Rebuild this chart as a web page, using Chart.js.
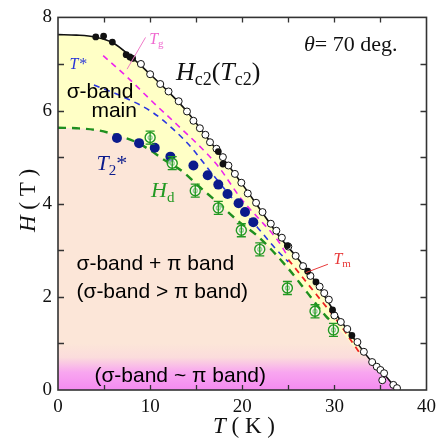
<!DOCTYPE html>
<html>
<head>
<meta charset="utf-8">
<script src="https://cdn.jsdelivr.net/npm/chart.js@4.4.1/dist/chart.umd.min.js"></script>
<style>
  html, body { margin: 0; padding: 0; background: #fff; }
  #wrap { width: 442px; height: 443px; }
</style>
</head>
<body>
<div id="wrap"><canvas id="phase"></canvas></div>
<script>
// Hc2(Tc2) solid curve
var hc2T = [0, 2, 4, 6, 8, 10, 12, 14, 16, 18, 20, 22, 24, 26, 28, 30, 32, 34, 35, 36, 36.8];
var hc2H = [7.63, 7.62, 7.58, 7.45, 7.14, 6.78, 6.4, 5.98, 5.47, 4.95, 4.42, 3.86, 3.3, 2.83, 2.31, 1.68, 1.14, 0.62, 0.43, 0.2, 0];

// open circles
var openT = [9.0, 10.0, 11.1, 12.0, 13.1, 14.0, 14.7, 15.4, 16.0, 16.5, 17.2, 17.9, 18.5, 19.2, 19.9, 20.6, 21.5, 22.2, 23.1, 23.7, 24.3, 25.0, 25.8, 26.6, 27.4, 28.4, 28.9, 29.4, 30.0, 30.7, 31.4, 32.5, 33.2, 34.1, 34.6, 35.0, 35.4, 35.2, 36.4, 36.8];
var openH = [7.0, 6.78, 6.57, 6.41, 6.2, 5.98, 5.78, 5.62, 5.48, 5.32, 5.18, 5.0, 4.82, 4.64, 4.45, 4.22, 4.02, 3.82, 3.57, 3.42, 3.27, 3.08, 2.88, 2.66, 2.45, 2.22, 2.08, 1.94, 1.6, 1.46, 1.31, 1.03, 0.82, 0.6, 0.5, 0.43, 0.36, 0.21, 0.11, 0.04];

// filled black circles
var filledT = [4.1, 4.95, 5.9, 7.4, 7.8, 8.1, 17.4, 17.9, 24.9, 27.1, 28.0, 29.8, 31.9];
var filledH = [7.58, 7.6, 7.47, 7.2, 7.15, 7.12, 5.12, 4.85, 3.1, 2.55, 2.32, 1.72, 1.17];

// T2* navy circles
var t2T = [6.4, 8.8, 10.5, 12.2, 14.7, 16.25, 17.4, 18.4, 19.6, 20.3, 21.2];
var t2H = [5.41, 5.3, 5.2, 5.01, 4.82, 4.61, 4.41, 4.21, 4.01, 3.82, 3.6];

// Hd points with error bars
var hdPtT = [10.0, 12.4, 14.9, 17.4, 19.9, 21.9, 24.9, 27.9, 29.9];
var hdPtH = [5.42, 4.87, 4.28, 3.91, 3.43, 3.02, 2.19, 1.69, 1.29];
var hdErr = 0.14;

// dashed guide lines
var hdLineT = [0, 2, 4.5, 7, 8.4, 10, 11.3, 13.6, 15.25, 17.2, 19.6, 21.7, 24.9, 27.1, 29.1, 29.5];
var hdLineH = [5.63, 5.62, 5.57, 5.43, 5.33, 5.15, 4.97, 4.68, 4.38, 4.05, 3.62, 3.3, 2.63, 2.08, 1.58, 1.5];
var tStarT = [3.9, 7.0, 10.2, 12.5, 14.5, 16.7, 19.2, 21.7, 23.5, 25.0];
var tStarH = [6.55, 6.3, 5.97, 5.6, 5.2, 4.65, 4.05, 3.48, 3.06, 2.75];
var tgT = [4.9, 7.5, 10.2, 12.9, 15.6, 17.4, 19.9, 21.7, 23.9, 25.0];
var tgH = [7.18, 6.72, 6.2, 5.7, 5.19, 4.8, 4.1, 3.7, 3.2, 2.85];
var tmT = [25.0, 28.0, 30.3, 32.8];
var tmH = [2.8, 2.06, 1.49, 0.78];

// lower edge of the yellow region
var edgeT = [0, 2, 4.5, 7, 8.4, 10, 11.3, 13.6, 15.25, 17.2, 19.6, 21.7, 24.9, 27.1, 29.1, 31, 33, 35, 36.3];
var edgeH = [5.63, 5.62, 5.57, 5.43, 5.33, 5.15, 4.97, 4.68, 4.38, 4.05, 3.62, 3.3, 2.63, 2.08, 1.58, 1.2, 0.68, 0.25, 0];

var xTicks = [0, 10, 20, 30, 40];
var yTicks = [0, 2, 4, 6, 8];

function pts(xs, ys) {
  return xs.map(function (x, i) { return { x: x, y: ys[i] }; });
}

var SERIF = '"Liberation Serif", "DejaVu Serif", serif';
var SANS = '"Liberation Sans", Arial, sans-serif';

function bandFill(top) {
  return function (ctx) {
    var chart = ctx.chart;
    var y = chart.scales && chart.scales.y;
    if (!chart.chartArea || !y) return top;
    var g = chart.ctx.createLinearGradient(0, y.getPixelForValue(1.0), 0, y.getPixelForValue(0));
    g.addColorStop(0, top);
    g.addColorStop(0.3, '#fbdcdc');
    g.addColorStop(0.62, '#f8a6f0');
    g.addColorStop(1, '#f48af0');
    return g;
  };
}

// inward ticks on four sides + frame
var framePlugin = {
  id: 'frame',
  afterDatasetsDraw: function (chart) {
    var c = chart.ctx, a = chart.chartArea, sx = chart.scales.x, sy = chart.scales.y;
    c.save();
    c.strokeStyle = '#333';
    c.lineWidth = 1.3;
    c.beginPath();
    for (var t = 5; t < 40; t += 5) {
      var px = Math.round(sx.getPixelForValue(t)) + 0.5;
      c.moveTo(px, a.bottom); c.lineTo(px, a.bottom - 5);
      c.moveTo(px, a.top); c.lineTo(px, a.top + 5);
    }
    for (var h = 1; h < 8; h += 1) {
      var py = Math.round(sy.getPixelForValue(h)) + 0.5;
      c.moveTo(a.left, py); c.lineTo(a.left + 6, py);
      c.moveTo(a.right, py); c.lineTo(a.right - 6, py);
    }
    c.stroke();
    c.lineWidth = 1.6;
    c.strokeRect(a.left, a.top, a.right - a.left, a.bottom - a.top);
    c.restore();
  }
};

// error bars on the Hd points
var errPlugin = {
  id: 'errbars',
  afterDatasetsDraw: function (chart) {
    var c = chart.ctx, sx = chart.scales.x, sy = chart.scales.y;
    c.save();
    c.strokeStyle = '#229922';
    c.lineWidth = 1.3;
    c.beginPath();
    hdPtT.forEach(function (t, i) {
      var px = sx.getPixelForValue(t);
      var y1 = sy.getPixelForValue(hdPtH[i] + hdErr), y2 = sy.getPixelForValue(hdPtH[i] - hdErr);
      c.moveTo(px, y1); c.lineTo(px, y2);
      c.moveTo(px - 4.5, y1); c.lineTo(px + 4.5, y1);
      c.moveTo(px - 4.5, y2); c.lineTo(px + 4.5, y2);
    });
    c.stroke();
    c.restore();
  }
};

// draws pieces of text one after another: [text, font, dy, color]
function rich(c, x, y, parts, color) {
  parts.forEach(function (p) {
    c.font = p[1];
    c.fillStyle = p[3] || color;
    c.fillText(p[0], x, y + (p[2] || 0));
    x += c.measureText(p[0]).width;
  });
}

var textPlugin = {
  id: 'texts',
  afterDraw: function (chart) {
    var c = chart.ctx, sx = chart.scales.x, sy = chart.scales.y, a = chart.chartArea;
    function X(v) { return sx.getPixelForValue(v); }
    function Y(v) { return sy.getPixelForValue(v); }
    c.save();
    c.textBaseline = 'alphabetic';
    c.textAlign = 'left';

    // pointer lines
    c.lineWidth = 1;
    c.strokeStyle = '#f07ac8';
    c.beginPath(); c.moveTo(X(9.5), Y(7.57)); c.lineTo(X(7.5), Y(6.89)); c.stroke();
    c.strokeStyle = '#e83a3a';
    c.beginPath(); c.moveTo(X(29.3), Y(2.7)); c.lineTo(X(26.9), Y(2.52)); c.stroke();

    rich(c, X(26.7), Y(7.27), [['θ', 'italic 22px ' + SERIF], ['= 70 deg.', '22px ' + SERIF]], '#111');
    rich(c, X(12.8), Y(6.65), [['H', 'italic 26px ' + SERIF], ['c2', '18px ' + SERIF, 5], ['(', '26px ' + SERIF],
      ['T', 'italic 26px ' + SERIF], ['c2', '18px ' + SERIF, 5], [')', '26px ' + SERIF]], '#111');
    rich(c, X(9.9), Y(7.42), [['T', 'italic 16px ' + SERIF], ['g', '11px ' + SERIF, 3]], '#f06ad0');
    rich(c, X(1.25), Y(6.89), [['T*', 'italic 16px ' + SERIF]], '#2a36d8');
    rich(c, X(0.94), Y(6.26), [['σ-band', '21px ' + SANS]], '#000');
    rich(c, X(3.63), Y(5.86), [['main', '21px ' + SANS]], '#000');
    rich(c, X(4.17), Y(4.73), [['T', 'italic 22px ' + SERIF], ['2', '15px ' + SERIF, 5], ['*', '22px ' + SERIF]], '#0b1b8c');
    rich(c, X(10.1), Y(4.14), [['H', 'italic 22px ' + SERIF], ['d', '15px ' + SERIF, 5]], '#229922');
    rich(c, X(2.0), Y(2.58), [['σ-band + π band', '21px ' + SANS]], '#000');
    rich(c, X(2.0), Y(1.98), [['(σ-band > π band)', '21px ' + SANS]], '#000');
    rich(c, X(3.95), Y(0.17), [['(σ-band ~ π band)', '21px ' + SANS]], '#000');
    rich(c, X(29.9), Y(2.71), [['T', 'italic 16px ' + SERIF], ['m', '11px ' + SERIF, 3]], '#e83a3a');

    // axis titles
    rich(c, a.left + 155, 433, [['T', 'italic 23px ' + SERIF], [' ( K )', '23px ' + SERIF]], '#111');
    c.translate(35, 232);
    c.rotate(-Math.PI / 2);
    rich(c, 0, 0, [['H', 'italic 23px ' + SERIF], [' ( T )', '23px ' + SERIF]], '#111');
    c.restore();
  }
};

var lineBase = { showLine: true, pointRadius: 0, fill: false, cubicInterpolationMode: 'monotone' };

new Chart(document.getElementById('phase'), {
  type: 'scatter',
  data: {
    datasets: [
      { label: 'Hd outer', data: pts(hdPtT, hdPtH), pointRadius: 5, pointBorderWidth: 1.4,
        pointBorderColor: '#229922', pointBackgroundColor: 'rgba(255,255,255,0.5)' },
      { label: 'Hd inner', data: pts(hdPtT, hdPtH), pointRadius: 2, pointBorderWidth: 1.3,
        pointBorderColor: '#229922', pointBackgroundColor: 'rgba(0,0,0,0)' },
      { label: 'T2*', data: pts(t2T, t2H), pointRadius: 5, pointBorderWidth: 0,
        pointBackgroundColor: '#0b1b8c' },
      { label: 'filled', data: pts(filledT, filledH), pointRadius: 3.4, pointBorderWidth: 0,
        pointBackgroundColor: '#111' },
      { label: 'open', data: pts(openT, openH), pointRadius: 3.5, pointBorderWidth: 1,
        pointBorderColor: '#111', pointBackgroundColor: '#fff' },
      Object.assign({ label: 'Hd line', data: pts(hdLineT, hdLineH), borderColor: '#1f8f1f',
        borderWidth: 2.4, borderDash: [8, 6] }, lineBase),
      Object.assign({ label: 'T*', data: pts(tStarT, tStarH), borderColor: '#2a36e0',
        borderWidth: 1.6, borderDash: [6, 5] }, lineBase),
      Object.assign({ label: 'Tg', data: pts(tgT, tgH), borderColor: '#ee22ee',
        borderWidth: 1.6, borderDash: [6, 5] }, lineBase),
      Object.assign({ label: 'Tm', data: pts(tmT, tmH), borderColor: '#ee2222',
        borderWidth: 1.8, borderDash: [6, 5] }, lineBase),
      { label: 'edge', data: pts(edgeT, edgeH), showLine: true, pointRadius: 0, borderWidth: 0,
        borderColor: 'rgba(0,0,0,0)', cubicInterpolationMode: 'monotone',
        fill: 'origin', backgroundColor: bandFill('#fce6d8') },
      { label: 'Hc2', data: pts(hc2T, hc2H), showLine: true, pointRadius: 0, borderWidth: 1.6,
        borderColor: '#111', cubicInterpolationMode: 'monotone',
        fill: 'origin', backgroundColor: bandFill('#ffffc6') }
    ]
  },
  options: {
    responsive: true,
    maintainAspectRatio: false,
    animation: false,
    layout: { padding: { top: 15, right: 12, left: 0, bottom: 0 } },
    plugins: {
      legend: { display: false },
      tooltip: { enabled: false },
      filler: { drawTime: 'beforeDatasetsDraw' }
    },
    scales: {
      x: {
        type: 'linear', min: 0, max: 40,
        afterFit: function (s) { s.height = 53; },
        afterBuildTicks: function (s) { s.ticks = xTicks.map(function (v) { return { value: v }; }); },
        grid: { display: false, drawTicks: false },
        border: { display: false },
        ticks: { padding: 6, color: '#111', font: { family: SERIF, size: 19 } }
      },
      y: {
        type: 'linear', min: 0, max: 8,
        afterFit: function (s) { s.width = 58; },
        afterBuildTicks: function (s) { s.ticks = yTicks.map(function (v) { return { value: v }; }); },
        grid: { display: false, drawTicks: false },
        border: { display: false },
        ticks: { padding: 6, color: '#111', font: { family: SERIF, size: 19 } }
      }
    }
  },
  plugins: [framePlugin, errPlugin, textPlugin]
});
</script>
</body>
</html>
